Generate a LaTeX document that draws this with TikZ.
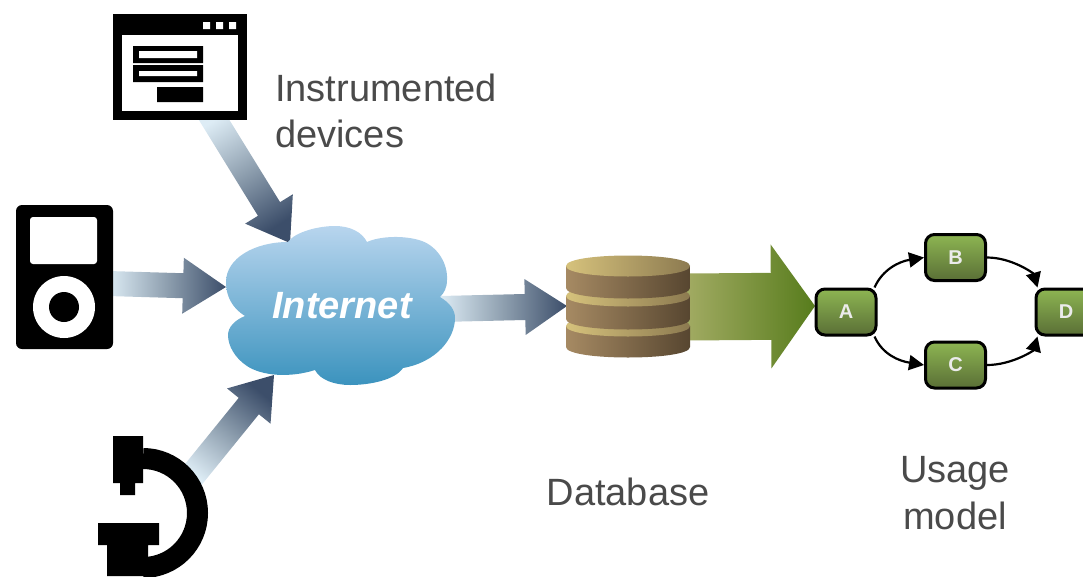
\documentclass[tikz,border=0pt]{standalone}
\usepackage{fontspec}
\setmainfont{Liberation Sans}
\usetikzlibrary{calc,arrows.meta}
\definecolor{txt}{HTML}{4A4A4A}
\definecolor{arL}{HTML}{DDECF5}
\definecolor{arM}{HTML}{8E9FAF}
\definecolor{arD}{HTML}{3C4E6A}
\definecolor{grL}{HTML}{A2AB63}
\definecolor{grD}{HTML}{577C1C}
\definecolor{ndT}{HTML}{8DB552}
\definecolor{ndB}{HTML}{5A6F36}
\definecolor{clT}{HTML}{B8D5EE}
\definecolor{clB}{HTML}{3B93BE}
\definecolor{dbL}{HTML}{A68A63}
\definecolor{dbD}{HTML}{574630}
\definecolor{capL}{HTML}{D6C27C}
\definecolor{capD}{HTML}{8C7A50}
\tikzset{
  labeltext/.style={text=txt,font=\fontsize{38}{46}\selectfont,align=center,inner sep=0pt},
  device/.style={fill=black,inner sep=0pt},
  graphnode/.style={draw=black,line width=3pt,rounded corners=9pt,top color=ndT,bottom color=ndB,
    minimum width=60pt,minimum height=46pt,inner sep=0pt,text=white!92!black,
    font=\fontsize{20}{24}\selectfont\bfseries},
  edge/.style={draw=black,line width=2.2pt,-{Triangle[length=15pt,width=15pt]}},
  bluearrow/.style={top color=arL,bottom color=arD,middle color=arM},
  greenarrow/.style={top color=grL,bottom color=grD},
}
% from, to, half shaft, half head, head length, style
\newcommand{\blockarrow}[6]{%
  \coordinate (hb) at ($(#2)!#5pt!(#1)$);
  \coordinate (sa) at ($(#1)!#3pt!90:(#2)$);
  \coordinate (sb) at ($(#1)!#3pt!-90:(#2)$);
  \coordinate (ha) at ($(hb)!#3pt!-90:(#2)$);
  \coordinate (hc) at ($(hb)!#3pt!90:(#2)$);
  \coordinate (wa) at ($(hb)!#4pt!-90:(#2)$);
  \coordinate (wc) at ($(hb)!#4pt!90:(#2)$);
  \path[#6] (sa) -- (hc) -- (wc) -- (#2) -- (wa) -- (ha) -- (sb) -- cycle;
}
\newcommand{\dblayer}[2]{%
  \path[left color=dbL,right color=dbD]
    (566,#1) -- (566,#2) .. controls (566,{#2+14}) and (690,{#2+14}) .. (690,#2) -- (690,#1) -- cycle;
  \path[left color=capL,right color=capD]
    (566,#1) .. controls (566,{#1+14}) and (690,{#1+14}) .. (690,#1)
    .. controls (690,{#1-14}) and (566,{#1-14}) .. (566,#1) -- cycle;
}
\begin{document}
\begin{tikzpicture}[x=1pt,y=-1pt]
\useasboundingbox (0,0) rectangle (1083,576);
\clip (0,0) rectangle (1083,576);

% arrow end points
\coordinate (winout) at (208,110);
\coordinate (winin) at (290,243);
\coordinate (ipodout) at (108,283.5);
\coordinate (ipodin) at (226,287);
\coordinate (hook) at (188,481);
\coordinate (hookin) at (274,375);
\coordinate (cloudout) at (440,309);
\coordinate (dbin) at (567,306);
\coordinate (dbout) at (686,307);
\coordinate (ain) at (815,306);

\blockarrow{winout}{winin}{13}{28}{40}{bluearrow,shading angle=32}
\blockarrow{ipodout}{ipodin}{12.5}{28}{43}{bluearrow,shading angle=90}
\blockarrow{hook}{hookin}{13}{28}{40}{bluearrow,shading angle=141}
\blockarrow{cloudout}{dbin}{13}{28}{42}{bluearrow,shading angle=90}
\blockarrow{dbout}{ain}{33.5}{62}{44}{greenarrow,shading angle=90}

% device nodes
\node[device,minimum width=134pt,minimum height=106pt] (win) at (180,67) {};
\fill[white] (122,35) rectangle (238,111);
\fill[white] (203,22) rectangle (210,29) (216,22) rectangle (223,29) (229,22) rectangle (236,29);
\fill[black] (133,46) rectangle (203,63) (133,65) rectangle (203,82) (157,87) rectangle (203,102);
\fill[white] (139,51) rectangle (197,58) (139,71) rectangle (197,76);

\node[device,rounded corners=6pt,minimum width=97pt,minimum height=144pt] (ipod) at (64.5,277) {};
\fill[white,rounded corners=3pt] (30,217) rectangle (97,264);
\fill[white] (64,307) circle[radius=31];
\fill[black] (64,307) circle[radius=15];

\draw[line width=21pt] (143,458.5) arc[start angle=-90,end angle=90,radius=54.5];
\fill[black] (113,436) -- (143,436) -- (143,483) -- (135,483) -- (135,495) -- (120,495) -- (120,483) -- (113,483) -- cycle;
\fill[black] (98,523) -- (159,523) -- (159,545) -- (148,545) -- (148,576) -- (107,576) -- (107,545) -- (98,545) -- cycle;

% cloud
\path[top color=clT,bottom color=clB] (245,316)
  .. controls (232,308) and (226,296) .. (226,282)
  .. controls (226,258) and (255,242) .. (288,242)
  .. controls (295,232) and (318,226) .. (335,226)
  .. controls (350,226) and (362,232) .. (367,242)
  .. controls (380,236) and (405,235) .. (422,241)
  .. controls (438,247) and (448,264) .. (447,280)
  .. controls (447,288) and (444,293) .. (440,297)
  .. controls (450,303) and (455,310) .. (455,318)
  .. controls (455,338) and (437,362) .. (403,368)
  .. controls (395,380) and (370,385) .. (350,385)
  .. controls (335,385) and (320,380) .. (315,370)
  .. controls (290,378) and (262,376) .. (247,366)
  .. controls (235,358) and (228,346) .. (228,335)
  .. controls (228,327) and (235,320) .. (245,316) -- cycle;
\node[text=white,font=\fontsize{38}{46}\selectfont\bfseries\itshape,inner sep=0pt] (internet) at (342,306) {Internet};

% database
\dblayer{326}{347}
\dblayer{296}{319}
\dblayer{266}{288}

% usage graph
\node[graphnode] (A) at (846,312) {A};
\node[graphnode] (B) at (955.5,257.5) {B};
\node[graphnode] (C) at (955.5,365) {C};
\node[graphnode] (D) at (1066,312) {D};
\draw[edge] ([xshift=-3pt]A.north east) .. controls +(8,-18) and +(-25,4) .. (B.west);
\draw[edge] ([xshift=-3pt]A.south east) .. controls +(8,18) and +(-25,-4) .. (C.west);
\draw[edge] (B.east) .. controls +(25,0) and +(-4,-14) .. ([xshift=3pt]D.north west);
\draw[edge] (C.east) .. controls +(25,0) and +(-4,14) .. ([xshift=3pt]D.south west);

% labels
\node[labeltext,anchor=base west,align=left] (l1) at (275,101) {Instrumented};
\node[labeltext,anchor=base west,align=left] (l2) at (275,147) {devices};
\node[labeltext,anchor=base] (l3) at (628,505) {Database};
\node[labeltext,anchor=base] (l4) at (955,482) {Usage};
\node[labeltext,anchor=base] (l5) at (955,529) {model};
\end{tikzpicture}
\end{document}
